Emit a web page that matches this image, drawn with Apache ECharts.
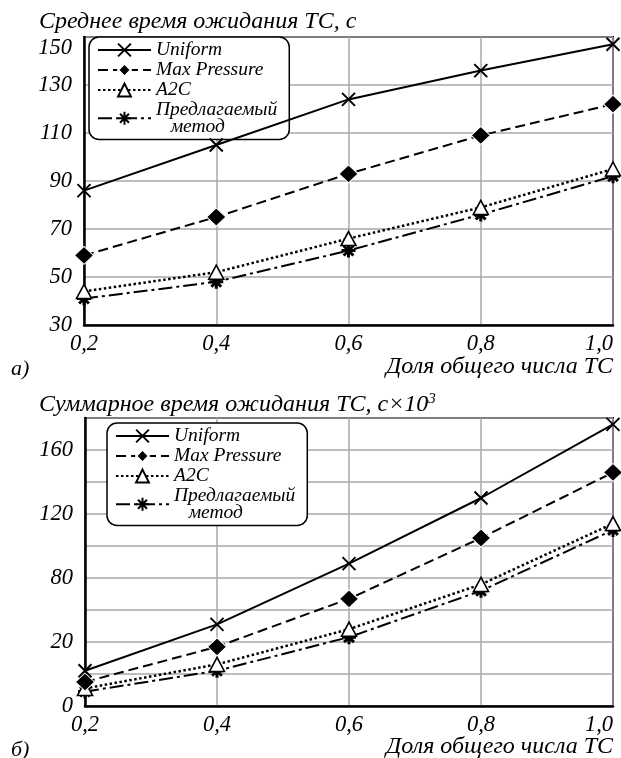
<!DOCTYPE html>
<html>
<head>
<meta charset="utf-8">
<script src="https://cdn.jsdelivr.net/npm/echarts@6/dist/echarts.min.js"></script>
<style>
html,body{margin:0;padding:0;background:#fff;}
#c{width:621px;height:758px;}
</style>
</head>
<body>
<div id="c"></div>
<script>
// ---- data ----
var categories = ['0,2', '0,4', '0,6', '0,8', '1,0'];
var seriesNames = ['Uniform', 'Max Pressure', 'A2C', 'Предлагаемый\n   метод'];

// chart (a): average waiting time, s
var avgUniform  = [86, 105, 124, 136, 147];
var avgMaxPress = [59, 75, 93, 109, 122];
var avgA2C      = [44, 52, 66, 79, 95];
var avgProposed = [41, 48, 61, 76, 92];

// chart (b): total waiting time, s x 10^3
var totUniform  = [22, 51, 89, 130, 176];
var totMaxPress = [15, 37, 67, 105, 146];
var totA2C      = [11, 26, 48, 76, 114];
var totProposed = [9, 22, 43, 72, 110];

// tick labels
var topTickValues = [30, 50, 70, 90, 110, 130, 150];
var bottomTickValues = [0, 40, 80, 120, 160];
var bottomTickLabels = ['0', '20', '80', '120', '160'];

var FONT = 'Liberation Serif';
var SYM_X = 'path://M0,0L10,10M10,0L0,10';
var SYM_AST = 'path://M5,0L5,10M0,5L10,5M1.5,1.5L8.5,8.5M8.5,1.5L1.5,8.5';

function mkSeries(gi, vals) {
  var x = gi, y = gi;
  return [
    {
      name: seriesNames[0], type: 'line', xAxisIndex: x, yAxisIndex: y, data: vals[0],
      symbol: SYM_X, symbolSize: 13, showAllSymbol: true,
      lineStyle: {color: '#000', width: 2, type: 'solid'},
      itemStyle: {color: '#000', borderColor: '#000', borderWidth: 2},
      z: 5, animation: false
    },
    {
      name: seriesNames[1], type: 'line', xAxisIndex: x, yAxisIndex: y, data: vals[1],
      symbol: 'diamond', symbolSize: [19, 18],
      lineStyle: {color: '#000', width: 2, type: [10, 5]},
      itemStyle: {color: '#000', borderColor: '#fff', borderWidth: 1},
      z: 4, animation: false
    },
    {
      name: seriesNames[2], type: 'line', xAxisIndex: x, yAxisIndex: y, data: vals[2],
      symbol: 'triangle', symbolSize: [15, 14],
      lineStyle: {color: '#000', width: 2.5, type: [2.5, 2.5]},
      itemStyle: {color: '#fff', borderColor: '#000', borderWidth: 1.6},
      z: 3, animation: false
    },
    {
      name: seriesNames[3], type: 'line', xAxisIndex: x, yAxisIndex: y, data: vals[3],
      symbol: SYM_AST, symbolSize: 14,
      lineStyle: {color: '#000', width: 2, type: [14, 4, 3, 4]},
      itemStyle: {color: '#000', borderColor: '#000', borderWidth: 3},
      z: 2, animation: false
    }
  ];
}

function mkXAxis(gi) {
  return {
    type: 'category', gridIndex: gi, data: categories, boundaryGap: false,
    axisLine: {show: true, lineStyle: {color: '#000', width: 2.5}},
    axisTick: {show: false},
    axisLabel: {
      color: '#000', fontFamily: FONT, fontStyle: 'italic', fontSize: 22.5, margin: 8,
      alignMaxLabel: 'right'
    },
    splitLine: {show: true, lineStyle: {color: '#a8a8a8', width: 1.5}}
  };
}

var legendBase = {
  orient: 'vertical',
  itemWidth: 53, itemHeight: 16, itemGap: 0,
  padding: [3, 12, 3, 8],
  borderColor: '#000', borderWidth: 1.5, borderRadius: 10,
  backgroundColor: '#fff',
  textStyle: {fontFamily: FONT, fontStyle: 'italic', fontSize: 19.5, color: '#000', lineHeight: 16.5},
  selectedMode: false,
  data: seriesNames
};

var option = {
  animation: false,
  backgroundColor: '#fff',
  textStyle: {fontFamily: FONT},
  grid: [
    {left: 84, right: 8, top: 37, height: 288, show: true, borderColor: '#000', borderWidth: 2, containLabel: false},
    {left: 85, right: 8, top: 418, height: 288, show: true, borderColor: '#000', borderWidth: 2, containLabel: false}
  ],
  xAxis: [mkXAxis(0), mkXAxis(1)],
  yAxis: [
    {
      type: 'value', gridIndex: 0, min: 30, max: 150, interval: 20,
      axisLine: {show: true, lineStyle: {color: '#000', width: 2.5}},
      axisTick: {show: false},
      axisLabel: {
        color: '#000', fontFamily: FONT, fontStyle: 'italic', fontSize: 22.5, margin: 12,
        verticalAlignMaxLabel: 'top',
        formatter: function (v) { return topTickValues.indexOf(v) >= 0 ? String(v) : ''; }
      },
      splitLine: {show: true, lineStyle: {color: '#a8a8a8', width: 1.5}}
    },
    {
      type: 'value', gridIndex: 1, min: 0, max: 180, interval: 20,
      axisLine: {show: true, lineStyle: {color: '#000', width: 2.5}},
      axisTick: {show: false},
      axisLabel: {
        color: '#000', fontFamily: FONT, fontStyle: 'italic', fontSize: 22.5, margin: 12,
        formatter: function (v) {
          var i = bottomTickValues.indexOf(v);
          return i >= 0 ? bottomTickLabels[i] : '';
        }
      },
      splitLine: {show: true, lineStyle: {color: '#a8a8a8', width: 1.5}}
    }
  ],
  legend: [
    Object.assign({}, legendBase, {left: 89, top: 37}),
    Object.assign({}, legendBase, {left: 107, top: 423})
  ],
  title: [
    {
      text: 'Среднее время ожидания ТС, с', left: 34, top: 5,
      textStyle: {fontFamily: FONT, fontStyle: 'italic', fontWeight: 'normal', fontSize: 24, color: '#000'}
    },
    {
      text: 'Суммарное время ожидания ТС, с×10{sup|3}', left: 34, top: 387,
      textStyle: {
        fontFamily: FONT, fontStyle: 'italic', fontWeight: 'normal', fontSize: 24, color: '#000',
        rich: {sup: {fontFamily: FONT, fontStyle: 'italic', fontSize: 15, verticalAlign: 'top', padding: [0, 0, 10, 0], color: '#000'}}
      }
    }
  ],
  graphic: [
    {type: 'text', right: 8, top: 355, style: {text: 'Доля общего числа ТС', font: 'italic 24px "Liberation Serif"', fill: '#000'}},
    {type: 'text', left: 11, top: 358, style: {text: 'а)', font: 'italic 22px "Liberation Serif"', fill: '#000'}},
    {type: 'text', right: 8, top: 735, style: {text: 'Доля общего числа ТС', font: 'italic 24px "Liberation Serif"', fill: '#000'}},
    {type: 'text', left: 11, top: 739, style: {text: 'б)', font: 'italic 22px "Liberation Serif"', fill: '#000'}}
  ],
  series: [].concat(
    mkSeries(0, [avgUniform, avgMaxPress, avgA2C, avgProposed]),
    mkSeries(1, [totUniform, totMaxPress, totA2C, totProposed])
  )
};

var chart = echarts.init(document.getElementById('c'), null, {renderer: 'canvas'});
chart.setOption(option);
</script>
</body>
</html>
